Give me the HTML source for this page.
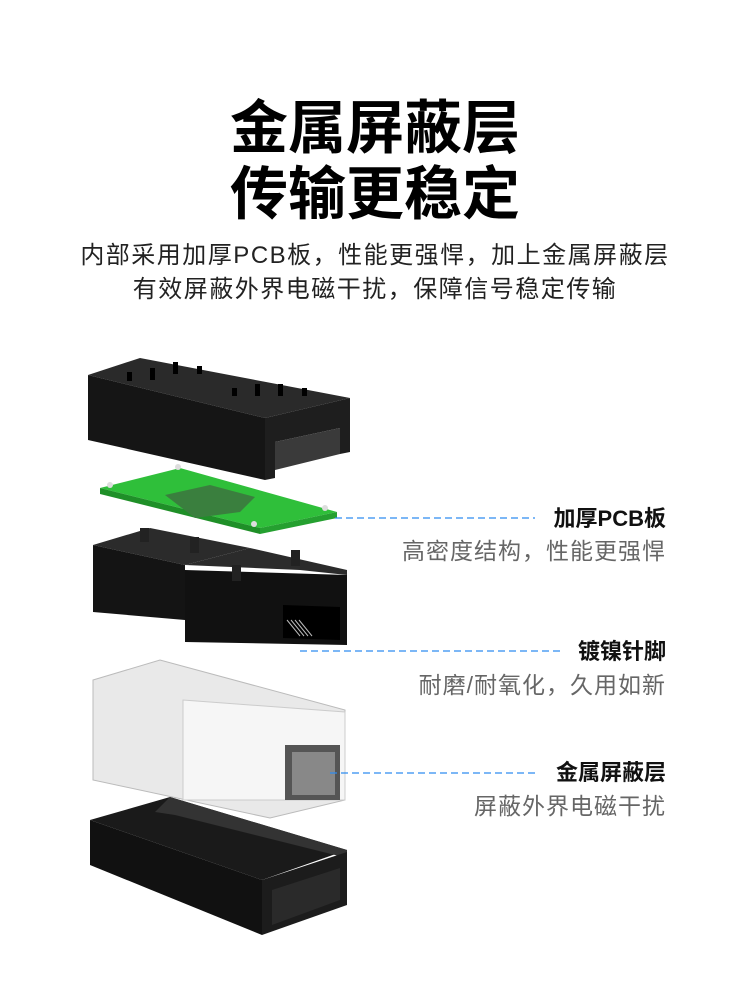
<!DOCTYPE html>
<html><head><meta charset="utf-8"><style>
html,body{margin:0;padding:0;background:#fff;}
body{width:750px;height:1000px;position:relative;overflow:hidden;font-family:"Liberation Sans","Noto Sans CJK SC",sans-serif;}
.t{position:absolute;left:0;width:750px;text-align:center;font-weight:bold;font-size:58px;color:#000;line-height:1;}
.s{position:absolute;left:0;width:750px;text-align:center;font-size:24px;color:#222;line-height:1;letter-spacing:1.5px;}
.l{position:absolute;right:84px;text-align:right;font-weight:bold;font-size:22px;color:#111;line-height:1;}
.d{position:absolute;right:84px;text-align:right;font-size:23px;color:#666;line-height:1;letter-spacing:1px;}
svg{position:absolute;left:0;top:0;}
</style></head><body>
<div class="t" style="top:100px">金属屏蔽层</div>
<div class="t" style="top:166px">传输更稳定</div>
<div class="s" style="top:244px">内部采用加厚PCB板，性能更强悍，加上金属屏蔽层</div>
<div class="s" style="top:278px">有效屏蔽外界电磁干扰，保障信号稳定传输</div>

<svg width="750" height="1000" viewBox="0 0 750 1000">
<!-- top cover -->
<polygon points="88,375 140,358 350,398 265,418" fill="#2a2a2a"/>
<polygon points="88,375 265,418 265,480 88,440" fill="#151515"/>
<polygon points="265,418 350,398 350,452 340,454 340,428 275,442 275,478 265,480" fill="#1e1e1e"/>
<polygon points="275,442 340,428 340,454 275,470" fill="#3a3a3a"/>
<g fill="#000"><rect x="127" y="372" width="5" height="9"/><rect x="150" y="368" width="5" height="12"/><rect x="173" y="362" width="5" height="12"/><rect x="197" y="366" width="5" height="8"/><rect x="232" y="388" width="5" height="8"/><rect x="255" y="384" width="5" height="12"/><rect x="278" y="384" width="5" height="12"/><rect x="302" y="388" width="5" height="8"/></g>
<!-- PCB -->
<polygon points="100,488 180,468 337,512 260,528" fill="#2fbf3a"/>
<polygon points="100,488 260,528 260,534 100,494" fill="#1f8f28"/>
<polygon points="260,528 337,512 337,518 260,534" fill="#25a030"/>
<polygon points="165,495 210,485 255,497 240,512 195,518" fill="#3a7f3e"/>
<g fill="#ddd"><circle cx="110" cy="485" r="3"/><circle cx="178" cy="467" r="3"/><circle cx="325" cy="508" r="3"/><circle cx="254" cy="524" r="3"/></g>
<line x1="335" y1="518" x2="535" y2="518" stroke="#2d8cf0" stroke-width="1.2" stroke-dasharray="7,4"/>
<!-- black body -->
<polygon points="93,545 150,528 250,548 185,565" fill="#2b2b2b"/>
<polygon points="185,565 250,548 347,570 347,575 300,570" fill="#2b2b2b"/>
<polygon points="93,545 185,565 185,620 93,612" fill="#141414"/>
<polygon points="185,570 347,575 347,645 185,642" fill="#111"/>
<polygon points="283,605 340,607 340,640 283,638" fill="#000"/>
<g stroke="#bbb" stroke-width="1"><line x1="287" y1="620" x2="300" y2="636"/><line x1="291" y1="620" x2="304" y2="636"/><line x1="295" y1="620" x2="308" y2="636"/><line x1="299" y1="620" x2="312" y2="636"/></g>
<g fill="#222"><rect x="140" y="528" width="9" height="14"/><rect x="190" y="537" width="9" height="16"/><rect x="232" y="565" width="9" height="16"/><rect x="291" y="550" width="9" height="16"/></g>
<line x1="300" y1="651" x2="560" y2="651" stroke="#2d8cf0" stroke-width="1.2" stroke-dasharray="7,4"/>
<!-- shield -->
<polygon points="93,680 160,660 345,710 345,800 270,818 93,780" fill="#e9e9e9" stroke="#bbb"/>
<polygon points="183,700 345,712 345,800 183,800" fill="#f6f6f6" stroke="#ccc"/>
<polygon points="285,745 340,745 340,800 285,800" fill="#555"/>
<polygon points="292,752 335,752 335,795 292,795" fill="#888"/>
<line x1="330" y1="773" x2="535" y2="773" stroke="#2d8cf0" stroke-width="1.2" stroke-dasharray="7,4"/>
<!-- tray -->
<polygon points="90,820 170,797 347,850 262,880" fill="#1a1a1a"/>
<polygon points="155,812 170,797 347,850 347,858 175,815" fill="#333"/>
<polygon points="90,820 262,880 262,935 90,865" fill="#111"/>
<polygon points="262,880 347,852 347,905 262,935" fill="#1c1c1c"/>
<polygon points="272,890 340,868 340,900 272,925" fill="#2a2a2a"/>
</svg>

<div class="l" style="top:508px">加厚PCB板</div>
<div class="d" style="top:540px">高密度结构，性能更强悍</div>
<div class="l" style="top:641px">镀镍针脚</div>
<div class="d" style="top:674px">耐磨/耐氧化，久用如新</div>
<div class="l" style="top:762px">金属屏蔽层</div>
<div class="d" style="top:795px">屏蔽外界电磁干扰</div>
</body></html>
